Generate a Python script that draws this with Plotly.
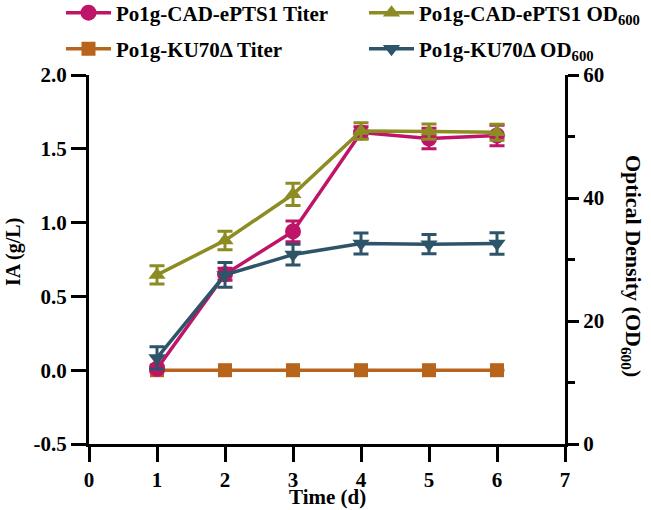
import plotly.graph_objects as go

days = [1, 2, 3, 4, 5, 6]
cad_titer = [0.01, 0.65, 0.94, 1.61, 1.57, 1.59]
cad_titer_err = [0.02, 0.04, 0.07, 0.04, 0.07, 0.07]
ku_titer = [0.0, 0.0, 0.0, 0.0, 0.0, 0.0]
ku_titer_err = [0.0, 0.0, 0.0, 0.0, 0.0, 0.0]
cad_od = [27.5, 33.1, 40.6, 50.9, 50.8, 50.7]
cad_od_err = [1.5, 1.5, 1.8, 1.35, 1.25, 1.3]
ku_od = [14.0, 27.5, 30.8, 32.6, 32.5, 32.6]
ku_od_err = [1.8, 2.0, 1.7, 1.7, 1.55, 1.75]

C_MAG = "#BE1569"
C_OLV = "#8C8C22"
C_ORG = "#B7641C"
C_TEAL = "#2D5468"

FONT = "Liberation Serif"
W, H = 651, 510
L, R, T, B = 89, 86, 75, 66
PW, PH = W - L - R, H - T - B

def px_x(xpx):
    return (xpx - L) / PW

def px_y(ypx):
    return (H - B - ypx) / PH

fig = go.Figure()

def err(vals, color):
    return dict(type="data", array=vals, visible=True, color=color, thickness=3, width=7.5)

fig.add_trace(go.Scatter(
    x=days, y=ku_titer, name="Po1g-KU70Δ Titer", legend="legend3",
    mode="lines+markers", line=dict(color=C_ORG, width=3.5),
    marker=dict(symbol="square", size=14, color=C_ORG),
    error_y=err(ku_titer_err, C_ORG), yaxis="y"))
fig.add_trace(go.Scatter(
    x=days, y=cad_od, name="Po1g-CAD-ePTS1 OD<sub>600</sub>", legend="legend2",
    mode="lines+markers", line=dict(color=C_OLV, width=3.5),
    marker=dict(symbol="triangle-up", size=15, color=C_OLV),
    error_y=err(cad_od_err, C_OLV), yaxis="y2"))
fig.add_trace(go.Scatter(
    x=days, y=ku_od, name="Po1g-KU70Δ OD<sub>600</sub>", legend="legend4",
    mode="lines+markers", line=dict(color=C_TEAL, width=3.5),
    marker=dict(symbol="triangle-down", size=15, color=C_TEAL),
    error_y=err(ku_od_err, C_TEAL), yaxis="y2"))
fig.add_trace(go.Scatter(
    x=days, y=cad_titer, name="Po1g-CAD-ePTS1 Titer", legend="legend",
    mode="lines+markers", line=dict(color=C_MAG, width=3.5),
    marker=dict(symbol="circle", size=16, color=C_MAG),
    error_y=err(cad_titer_err, C_MAG), yaxis="y"))

TICKFONT = dict(family=FONT, size=21, color="black", weight="bold")
axis_common = dict(showline=True, linecolor="black", linewidth=3, ticks="outside",
                   tickcolor="black", tickwidth=3, showgrid=False, zeroline=False,
                   tickfont=TICKFONT)

def leg(xpx, ypx):
    return dict(orientation="v", xref="container", yref="container", xanchor="left", yanchor="middle",
                x=xpx / W, y=1 - ypx / H, itemwidth=45,
                font=dict(family=FONT, size=21, color="black", weight="bold"),
                bgcolor="rgba(0,0,0,0)")

fig.update_layout(
    width=W, height=H,
    margin=dict(l=L, r=R, t=T, b=B, autoexpand=False),
    plot_bgcolor="white", paper_bgcolor="white",
    font=dict(family=FONT, color="black"),
    xaxis=dict(range=[0, 7], tickvals=[0, 1, 2, 3, 4, 5, 6, 7], ticklen=15, ticklabelstandoff=0,
               **axis_common),
    yaxis=dict(range=[-0.5, 2.0], tickvals=[-0.5, 0.0, 0.5, 1.0, 1.5, 2.0],
               ticktext=["-0.5", "0.0", "0.5", "1.0", "1.5", "2.0"], ticklen=15, **axis_common),
    yaxis2=dict(range=[0, 60], tickvals=[0, 20, 40, 60], overlaying="y", side="right", ticklen=11,
                minor=dict(tickvals=[10, 30, 50], ticklen=7, tickwidth=3, tickcolor="black", ticks="outside"),
                **axis_common),
    legend=leg(61, 13),
    legend2=leg(364, 13),
    legend3=leg(61, 49),
    legend4=leg(364, 49),
    showlegend=True,
)

fig.add_annotation(text="<b>Time (d)</b>", xref="paper", yref="paper", x=0.5, y=px_y(497),
                   yanchor="middle", showarrow=False, font=dict(family=FONT, size=21, color="black"))
fig.add_annotation(text="<b>IA (g/L)</b>", xref="paper", yref="paper", x=px_x(14), y=px_y(252),
                   xanchor="center", yanchor="middle", textangle=-90, showarrow=False,
                   font=dict(family=FONT, size=20, color="black"))
fig.add_annotation(text="<b>Optical Density (OD<sub>600</sub>)</b>", xref="paper", yref="paper",
                   x=px_x(632), y=px_y(266), xanchor="center", yanchor="middle", textangle=90,
                   showarrow=False, font=dict(family=FONT, size=22, color="black"))

fig.write_html("out.html", config={"displayModeBar": False},
               post_script="document.body.style.margin='0';document.body.style.padding='0';")
